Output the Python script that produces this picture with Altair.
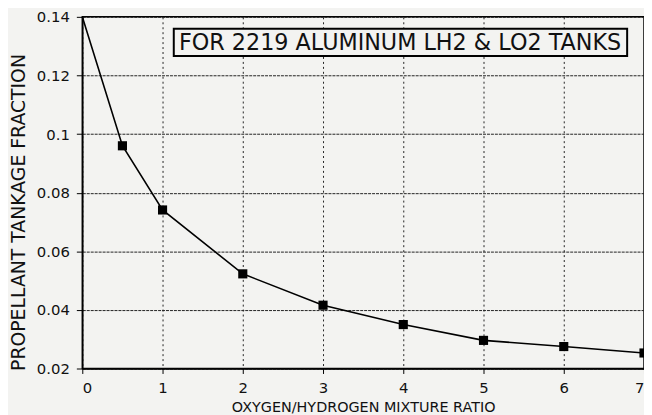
import altair as alt
import pandas as pd

# data
ratio = [0, 0.5, 1, 2, 3, 4, 5, 6, 7]
fraction = [0.14, 0.096, 0.0741, 0.0523, 0.0416, 0.035, 0.0296, 0.0275, 0.0253]
has_marker = [False, True, True, True, True, True, True, True, True]

x_ticks = [0, 1, 2, 3, 4, 5, 6, 7]
y_ticks = [0.02, 0.04, 0.06, 0.08, 0.1, 0.12, 0.14]

note_text = ["FOR 2219 ALUMINUM LH2 & LO2 TANKS"]
note_x = [3.96]
note_y = [0.1312]
box_x = [1.14]
box_x2 = [6.79]
box_y = [0.1359]
box_y2 = [0.1266]

BG = "#f3f3f1"
FONT = "DejaVu Sans"

df = pd.DataFrame({"ratio": ratio, "fraction": fraction, "marker": has_marker})
note = pd.DataFrame({"t": note_text, "x": note_x, "y": note_y,
                     "bx": box_x, "bx2": box_x2, "by": box_y, "by2": box_y2})

xscale = alt.Scale(domain=[0, 7], nice=False, zero=False)
yscale = alt.Scale(domain=[0.02, 0.14], nice=False, zero=False)

xaxis = alt.Axis(values=x_ticks, title="OXYGEN/HYDROGEN MIXTURE RATIO", format="d",
                 grid=True, gridColor="#222222", gridDash=[2, 3], gridWidth=1,
                 domainColor="black", domainWidth=1.5, tickColor="black", tickSize=5,
                 labelFont=FONT, labelFontSize=15, labelColor="#111111", labelPadding=7,
                 titleFont=FONT, titleFontSize=14.5, titleFontWeight="normal",
                 titleColor="#111111", titleY=39, titleBaseline="middle")
yaxis = alt.Axis(values=y_ticks, title="PROPELLANT TANKAGE FRACTION", format=".2~f",
                 grid=True, gridColor="#222222", gridDash=[3, 1], gridWidth=1,
                 domainColor="black", domainWidth=1.5, tickColor="black", tickSize=6,
                 labelFont=FONT, labelFontSize=15, labelColor="#111111", labelPadding=7,
                 titleFont=FONT, titleFontSize=19, titleFontWeight="normal",
                 titleColor="#111111", titleX=-64, titleY=197, titleAngle=-90,
                 titleAlign="center", titleBaseline="middle")

base = alt.Chart(df)
line = base.mark_line(color="black", strokeWidth=1.6).encode(
    x=alt.X("ratio:Q", scale=xscale, axis=xaxis),
    y=alt.Y("fraction:Q", scale=yscale, axis=yaxis),
)
points = base.transform_filter("datum.marker").mark_square(
    color="black", size=85, opacity=1, filled=True
).encode(x=alt.X("ratio:Q", scale=xscale), y=alt.Y("fraction:Q", scale=yscale))

box = alt.Chart(note).mark_rect(fill=BG, stroke="black", strokeWidth=2).encode(
    x=alt.X("bx:Q", scale=xscale), x2="bx2:Q",
    y=alt.Y("by:Q", scale=yscale), y2="by2:Q",
)
text = alt.Chart(note).mark_text(font=FONT, fontSize=22.5, color="#111111",
                                 align="center", baseline="middle").encode(
    x=alt.X("x:Q", scale=xscale), y=alt.Y("y:Q", scale=yscale), text="t:N"
)

chart = alt.layer(line, points, box, text).properties(
    width=567, height=355,
    autosize=alt.AutoSizeParams(type="none"),
    padding={"left": 75, "top": 7, "right": 0, "bottom": 45},
    background=BG,
).configure_view(stroke="black", strokeWidth=1.5)

chart.save("out.html", embed_options={"renderer": "svg", "actions": False})
